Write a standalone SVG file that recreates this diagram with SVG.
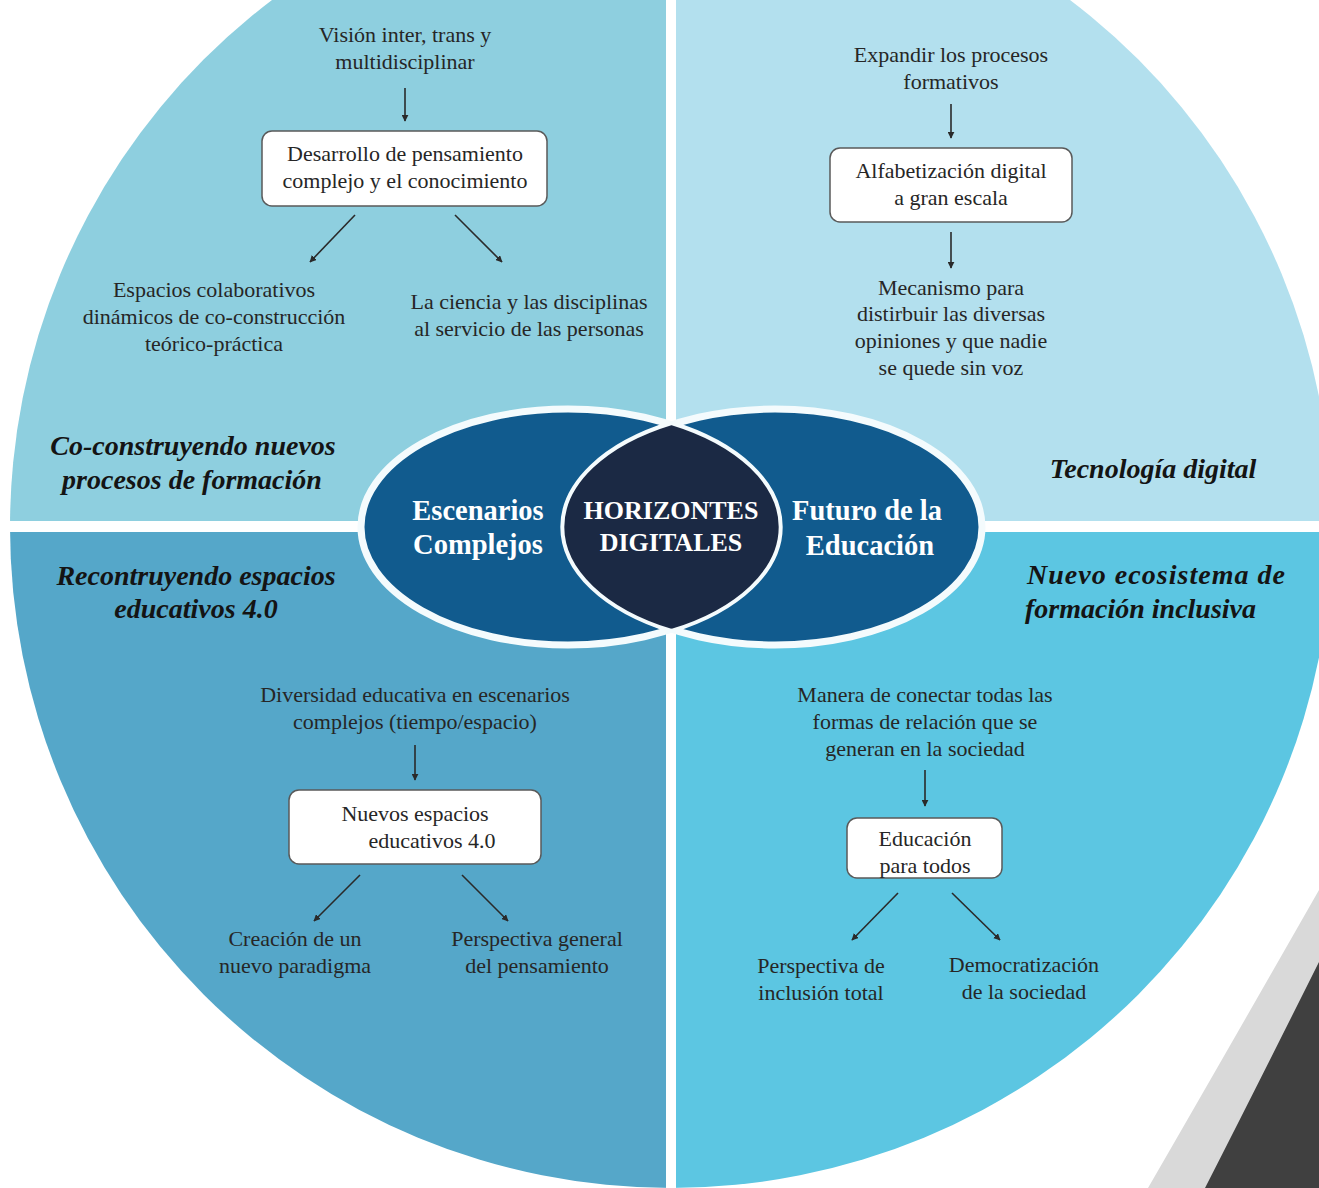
<svg xmlns="http://www.w3.org/2000/svg" width="1319" height="1188" viewBox="0 0 1319 1188">
<style>
.t{font-family:"Liberation Serif","Times New Roman",serif;font-size:22px;fill:#262626;text-anchor:middle}
.h{font-family:"Liberation Serif","Times New Roman",serif;font-size:28px;font-weight:bold;font-style:italic;fill:#141414;text-anchor:middle}
.w{font-family:"Liberation Serif","Times New Roman",serif;font-size:28.5px;font-weight:bold;fill:#ffffff;text-anchor:middle}
.box{fill:#ffffff;stroke:#5a5a5a;stroke-width:1.5}
.ln{stroke:#2a2a2a;stroke-width:1.6;fill:none;marker-end:url(#ah)}
</style>
<defs>
<clipPath id="circ"><circle cx="671" cy="527" r="661"/></clipPath>
<marker id="ah" viewBox="0 0 10 10" refX="9" refY="5" markerWidth="7" markerHeight="7" markerUnits="userSpaceOnUse" orient="auto">
<path d="M0,0 L10,5 L0,10 Z" fill="#2a2a2a"/>
</marker>
</defs>
<rect width="1319" height="1188" fill="#ffffff"/>
<g id="quadrants" clip-path="url(#circ)">
<rect x="0" y="0" width="666" height="521" fill="#8ecfdf"/>
<rect x="676" y="0" width="643" height="521" fill="#b3e0ee"/>
<rect x="0" y="532" width="666" height="656" fill="#55a7c9"/>
<rect x="676" y="532" width="643" height="656" fill="#5cc6e2"/>
</g>
<g id="decoration">
<path d="M1319,890 Q1222,1060 1148,1188 L1319,1188 Z" fill="#d9d9d9"/>
<path d="M1319,962 Q1255,1090 1205,1188 L1319,1188 Z" fill="#404040"/>
</g>
<g id="connectors">
<line class="ln" x1="405" y1="88" x2="405" y2="121"/>
<line class="ln" x1="355" y1="215" x2="310" y2="262"/>
<line class="ln" x1="455" y1="215" x2="502" y2="262"/>
<line class="ln" x1="951" y1="104" x2="951" y2="138"/>
<line class="ln" x1="951" y1="232" x2="951" y2="268"/>
<line class="ln" x1="415" y1="745" x2="415" y2="780"/>
<line class="ln" x1="360" y1="875" x2="314" y2="921"/>
<line class="ln" x1="462" y1="875" x2="508" y2="921"/>
<line class="ln" x1="925" y1="770" x2="925" y2="806"/>
<line class="ln" x1="898" y1="893" x2="852" y2="940"/>
<line class="ln" x1="952" y1="893" x2="1000" y2="940"/>
</g>
<g id="center">
<ellipse cx="568" cy="527" rx="207" ry="118" fill="#115b8e" stroke="#f4fbfd" stroke-width="7"/>
<ellipse cx="775" cy="527" rx="207" ry="118" fill="#115b8e" stroke="#f4fbfd" stroke-width="7"/>
<path d="M671.5,423 A207,118 0 0 1 671.5,631 A207,118 0 0 1 671.5,423 Z" fill="#1b2944" stroke="#f4fbfd" stroke-width="4"/>
</g>
<g id="n-escenarios"><text class="w" x="478" y="520">Escenarios</text><text class="w" x="478" y="554">Complejos</text></g>
<g id="n-horizontes"><text class="w" x="671" y="519" style="font-size:26px">HORIZONTES</text><text class="w" x="671" y="551" style="font-size:26px">DIGITALES</text></g>
<g id="n-futuro"><text class="w" x="867" y="520">Futuro de la</text><text class="w" x="870" y="555">Educación</text></g>

<g id="tl-title"><text class="h" x="193" y="455">Co-construyendo nuevos</text><text class="h" x="192" y="489">procesos de formación</text></g>
<g id="tl-vision"><text class="t" x="405" y="42">Visión inter, trans y</text><text class="t" x="405" y="69">multidisciplinar</text></g>
<g id="tl-box"><rect class="box" x="262" y="131" width="285" height="75" rx="10"/><text class="t" x="405" y="161">Desarrollo de pensamiento</text><text class="t" x="405" y="188">complejo y el conocimiento</text></g>
<g id="tl-espacios"><text class="t" x="214" y="297">Espacios colaborativos</text><text class="t" x="214" y="324">dinámicos de co-construcción</text><text class="t" x="214" y="351">teórico-práctica</text></g>
<g id="tl-ciencia"><text class="t" x="529" y="309">La ciencia y las disciplinas</text><text class="t" x="529" y="336">al servicio de las personas</text></g>

<g id="tr-title"><text class="h" x="1153" y="478">Tecnología digital</text></g>
<g id="tr-expandir"><text class="t" x="951" y="62">Expandir los procesos</text><text class="t" x="951" y="89">formativos</text></g>
<g id="tr-box"><rect class="box" x="830" y="148" width="242" height="74" rx="10"/><text class="t" x="951" y="178">Alfabetización digital</text><text class="t" x="951" y="205">a gran escala</text></g>
<g id="tr-mecanismo"><text class="t" x="951" y="295">Mecanismo para</text><text class="t" x="951" y="321">distirbuir las diversas</text><text class="t" x="951" y="348">opiniones y que nadie</text><text class="t" x="951" y="375">se quede sin voz</text></g>

<g id="bl-title"><text class="h" x="196" y="585">Recontruyendo espacios</text><text class="h" x="196" y="618">educativos 4.0</text></g>
<g id="bl-diversidad"><text class="t" x="415" y="702">Diversidad educativa en escenarios</text><text class="t" x="415" y="729">complejos (tiempo/espacio)</text></g>
<g id="bl-box"><rect class="box" x="289" y="790" width="252" height="74" rx="10"/><text class="t" x="415" y="821">Nuevos espacios</text><text class="t" x="432" y="848">educativos 4.0</text></g>
<g id="bl-creacion"><text class="t" x="295" y="946">Creación de un</text><text class="t" x="295" y="973">nuevo paradigma</text></g>
<g id="bl-perspectiva"><text class="t" x="537" y="946">Perspectiva general</text><text class="t" x="537" y="973">del pensamiento</text></g>

<g id="br-title"><text class="h" x="1027" y="584" style="text-anchor:start" textLength="258" lengthAdjust="spacing">Nuevo ecosistema de</text><text class="h" x="1025" y="618" style="text-anchor:start">formación inclusiva</text></g>
<g id="br-manera"><text class="t" x="925" y="702">Manera de conectar todas las</text><text class="t" x="925" y="729">formas de relación que se</text><text class="t" x="925" y="756">generan en la sociedad</text></g>
<g id="br-box"><rect class="box" x="847" y="818" width="155" height="60" rx="10"/><text class="t" x="925" y="846">Educación</text><text class="t" x="925" y="873">para todos</text></g>
<g id="br-inclusion"><text class="t" x="821" y="973">Perspectiva de</text><text class="t" x="821" y="1000">inclusión total</text></g>
<g id="br-democ"><text class="t" x="1024" y="972">Democratización</text><text class="t" x="1024" y="999">de la sociedad</text></g>
</svg>
